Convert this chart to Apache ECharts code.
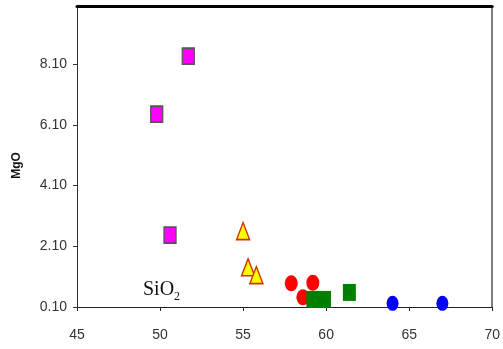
<!DOCTYPE html>
<html>
<head>
<meta charset="utf-8">
<script src="https://cdn.jsdelivr.net/npm/echarts@6/dist/echarts.min.js"></script>
<style>html,body{margin:0;padding:0;background:#fff}#c{width:503px;height:349px}</style>
</head>
<body>
<div id="c"></div>
<script>
var xTicks = [45, 50, 55, 60, 65, 70];
var yTicks = [0.1, 2.1, 4.1, 6.1, 8.1];
var magentaSquares = [[51.7, 8.37], [49.8, 6.46], [50.6, 2.47]];
var yellowTriangles = [[55.0, 2.6], [55.3, 1.41], [55.8, 1.15]];
var redCircles = [[57.9, 0.88], [59.2, 0.9], [58.6, 0.42]];
var greenSquares = [[59.2, 0.35], [59.9, 0.35], [61.4, 0.58]];
var blueCircles = [[64.0, 0.22], [67.0, 0.22]];

var chart = echarts.init(document.getElementById('c'));
var labelFont = {fontFamily: 'Liberation Sans', fontSize: 14, color: '#333'};
chart.setOption({
  animation: false,
  grid: {left: 77, right: 8, top: 6, bottom: 42},
  xAxis: [{
    type: 'value', min: 45, max: 70, interval: 5,
    axisLine: {show: true, lineStyle: {color: '#222', width: 1}},
    axisTick: {show: true, length: 4, lineStyle: {color: '#222'}},
    axisLabel: Object.assign({margin: 21, formatter: function(v){return String(v);}}, labelFont),
    splitLine: {show: false}
  }, {
    type: 'value', min: 45, max: 70, position: 'top',
    axisLine: {show: true, lineStyle: {color: '#000', width: 3}},
    axisTick: {show: false}, axisLabel: {show: false}, splitLine: {show: false}
  }],
  yAxis: [{
    type: 'value', min: 0.1, max: 10.02,
    name: 'MgO', nameLocation: 'middle', nameGap: 54, nameRotate: 90,
    nameTextStyle: {fontFamily: 'Liberation Sans', fontSize: 12, fontWeight: 'bold', color: '#111', padding: [0, 18, 0, 0]},
    axisLine: {show: true, lineStyle: {color: '#333', width: 1}},
    axisTick: {show: true, length: 4, customValues: yTicks, lineStyle: {color: '#333'}},
    axisLabel: Object.assign({margin: 10, customValues: yTicks, formatter: function(v){return v.toFixed(2);}}, labelFont),
    splitLine: {show: false}
  }, {
    type: 'value', min: 0.1, max: 10.02, position: 'right',
    axisLine: {show: true, lineStyle: {color: '#555', width: 1.5}},
    axisTick: {show: false}, axisLabel: {show: false}, splitLine: {show: false}
  }],
  graphic: [{
    type: 'text', left: 143, top: 280,
    style: {
      text: '{a|SiO}{b|2}',
      rich: {
        a: {fontFamily: 'Liberation Serif', fontSize: 20, fill: '#111'},
        b: {fontFamily: 'Liberation Serif', fontSize: 12, fill: '#111', padding: [14, 0, 0, 0]}
      }
    }
  }],
  series: [
    {type: 'scatter', data: magentaSquares, symbol: 'rect', symbolSize: [12, 16],
     itemStyle: {color: '#FF00FF', borderColor: '#555', borderWidth: 1.5, opacity: 1}},
    {type: 'scatter', data: yellowTriangles, symbol: 'triangle', symbolSize: [13, 17],
     itemStyle: {color: '#FFFF00', borderColor: '#CC3300', borderWidth: 1.5, opacity: 1}},
    {type: 'scatter', data: redCircles, symbol: 'circle', symbolSize: [13, 16],
     itemStyle: {color: '#FF0000', opacity: 1}},
    {type: 'scatter', data: greenSquares, symbol: 'rect', symbolSize: [13, 17],
     itemStyle: {color: '#007F00', opacity: 1}},
    {type: 'scatter', data: blueCircles, symbol: 'circle', symbolSize: [12, 15],
     itemStyle: {color: '#0000FF', opacity: 1}}
  ]
});
</script>
</body>
</html>
